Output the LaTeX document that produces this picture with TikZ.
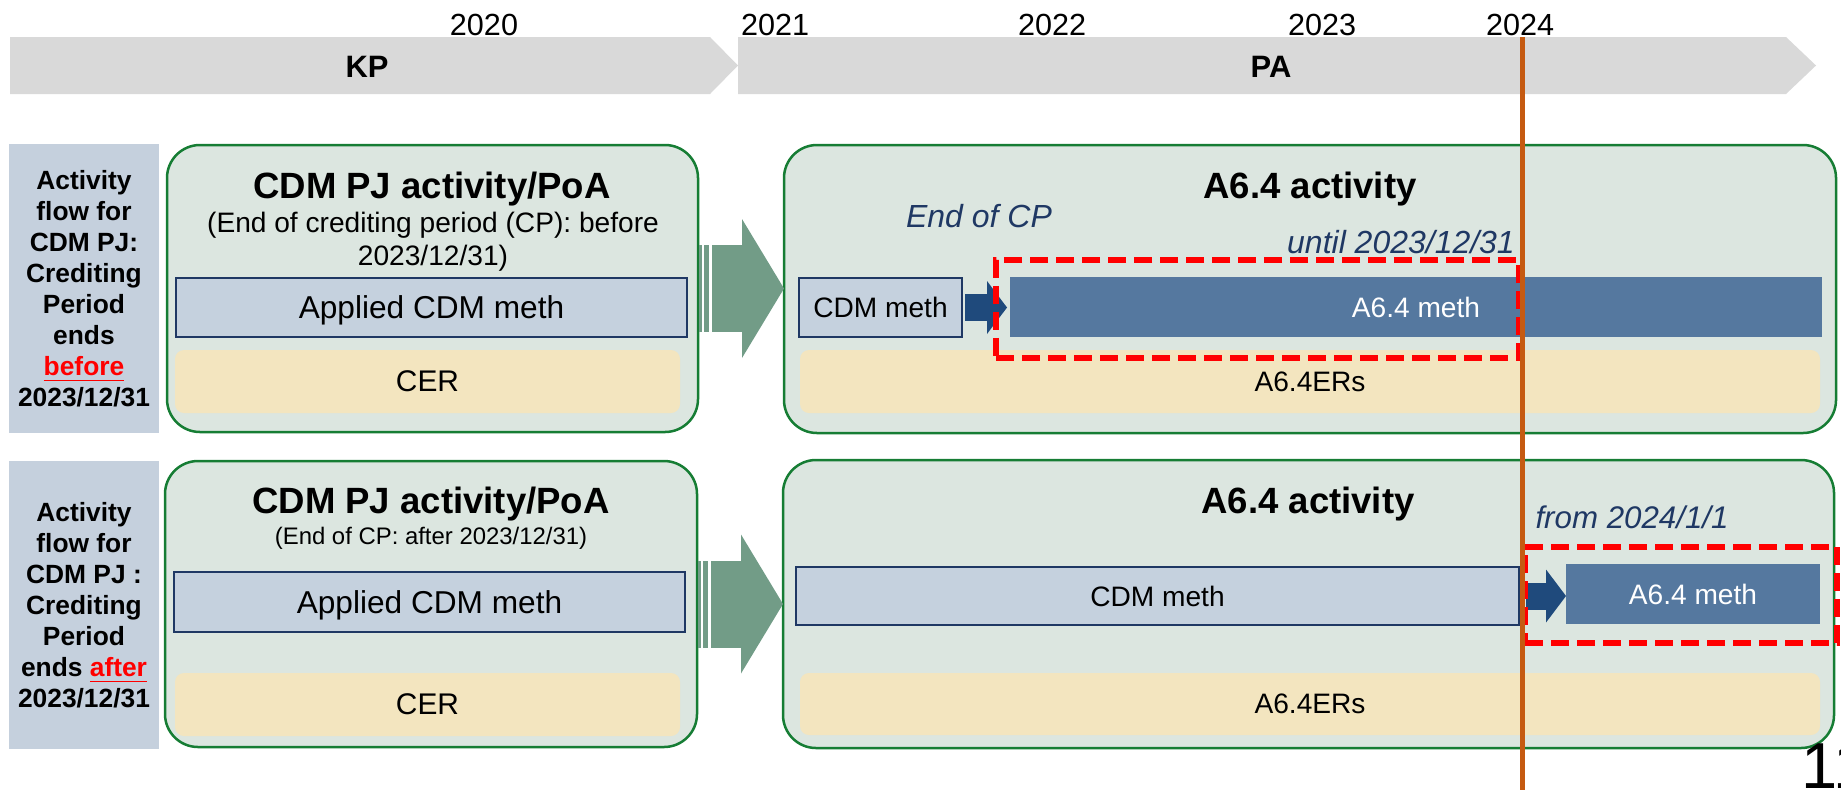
\documentclass[tikz,border=0pt]{standalone}
\usepackage{fontspec}
\setmainfont{Liberation Sans}
\usepackage{tikz}
\usetikzlibrary{arrows.meta}
\definecolor{barg}{RGB}{217,217,217}
\definecolor{sideb}{RGB}{197,208,221}
\definecolor{panelf}{RGB}{220,230,224}
\definecolor{panell}{RGB}{22,125,52}
\definecolor{methf}{RGB}{197,209,222}
\definecolor{methl}{RGB}{31,56,100}
\definecolor{credf}{RGB}{243,229,191}
\definecolor{newmeth}{RGB}{85,120,159}
\definecolor{darr}{RGB}{31,74,124}
\definecolor{garr}{RGB}{114,156,135}
\definecolor{navy}{RGB}{31,56,100}
\definecolor{cutline}{RGB}{197,90,17}
\newcommand{\boxat}[7]{\node[#2, minimum width={(#5-#3)*0.1mm}, minimum height={(#6-#4)*0.1mm}] (#1) at ({(#3+#5)/2},{(#4+#6)/2}) {#7};}
\tikzset{
  side/.style={fill=sideb, inner sep=0pt, outer sep=0pt, align=center, font=\fontsize{7.5}{8.8}\selectfont\bfseries},
  panel/.style={draw=panell, line width=0.25mm, fill=panelf, rounded corners=3.3mm, outer sep=0pt},
  meth/.style={draw=methl, line width=0.15mm, fill=methf, inner sep=0pt, outer sep=0pt, text depth=0pt},
  cred/.style={fill=credf, rounded corners=0.9mm, inner sep=0pt, outer sep=0pt, text depth=0pt},
  newm/.style={fill=newmeth, text=white, inner sep=0pt, outer sep=0pt, text depth=0pt},
  redbox/.style={draw=red, line width=0.6mm, dash pattern=on 1.8mm off 0.8mm, outer sep=0pt},
  ttl/.style={font=\fontsize{10.4}{12}\selectfont\bfseries, inner sep=0pt, text depth=0pt},
  year/.style={font=\fontsize{8.7}{10}\selectfont, inner sep=0pt, text depth=0pt},
  era/.style={font=\fontsize{8.8}{10}\selectfont\bfseries, inner sep=0pt, text depth=0pt},
  note/.style={font=\fontsize{9.1}{11}\selectfont\itshape, text=navy, inner sep=0pt, text depth=0pt},
  garrow/.style={draw=garr, line width=8.7mm, -{Triangle[length=4.2mm, width=13.9mm, line width=0pt]}},
  darrow/.style={draw=darr, line width=2.7mm, -{Triangle[length=2.0mm, width=5.3mm, line width=0pt]}}
}

\begin{document}
\begin{tikzpicture}[x=0.1mm, y=-0.1mm]
    \useasboundingbox (0,0) rectangle (1841,790);
    % timeline
    \fill[barg] (10,37) -- (710,37) -- (738,65.5) -- (710,94) -- (10,94) -- cycle;
    \fill[barg] (738,37) -- (1786,37) -- (1816,65.5) -- (1786,94) -- (738,94) -- cycle;
    \node[era] (kp) at (367,67) {KP};
    \node[era] (pa) at (1271,67) {PA};
    \node[year] (y20) at (484,25) {2020};
    \node[year] (y21) at (775,25) {2021};
    \node[year] (y22) at (1052,25) {2022};
    \node[year] (y23) at (1322,25) {2023};
    \node[year] (y24) at (1520,25) {2024};
    % row 1
    \boxat{sideA}{side}{9}{144}{159}{433}{Activity\\flow for\\CDM PJ:\\Crediting\\Period\\ends\\\textcolor{red}{\underline{before}}\\2023/12/31}
    \boxat{lftA}{panel}{167}{145}{698}{432}{}
    \node[ttl] (ttlA) at (432,185) {CDM PJ activity/PoA};
    \node[align=center, inner sep=0pt, font=\fontsize{8}{9.4}\selectfont] (subA) at (433,242) {(End of crediting period (CP): before\\2023/12/31)};
    \boxat{apA}{meth, font=\fontsize{9}{11}\selectfont}{176}{278}{687}{337}{Applied CDM meth}
    \boxat{cerA}{cred, font=\fontsize{8.5}{10}\selectfont}{175}{350}{680}{413}{CER}
    \boxat{rgtA}{panel}{784}{145}{1836}{433}{}
    \node[ttl] (actA) at (1310,185) {A6.4 activity};
    \node[note] (endA) at (979,216) {End of CP};
    \node[note] (untA) at (1401,242) {until 2023/12/31};
    \boxat{cdmA}{meth, font=\fontsize{8}{10}\selectfont}{799}{278}{962}{337}{CDM meth}
    \boxat{newA}{newm, font=\fontsize{8}{10}\selectfont}{1010}{277}{1822}{337}{A6.4 meth}
    \boxat{ersA}{cred, font=\fontsize{8}{10}\selectfont}{800}{350}{1820}{413}{A6.4ERs}
    \fill[garr] ([xshift=0.1mm, yshift=4.35mm]lftA.east) rectangle ([xshift=0.4mm, yshift=-4.35mm]lftA.east);
    \fill[garr] ([xshift=0.6mm, yshift=4.35mm]lftA.east) rectangle ([xshift=1.1mm, yshift=-4.35mm]lftA.east);
    \draw[garrow] ([xshift=1.4mm]lftA.east) -- (lftA.east -| rgtA.west);
    \draw[darrow] ([xshift=0.3mm]cdmA.east) -- ([xshift=-0.3mm]cdmA.east -| newA.west);
    \boxat{redA}{redbox}{996}{260}{1519}{358}{}
    % row 2
    \boxat{sideB}{side}{9}{461}{159}{749}{Activity\\flow for\\CDM PJ :\\Crediting\\Period\\ends \textcolor{red}{\underline{after}}\\2023/12/31}
    \boxat{lftB}{panel}{165}{461}{697}{747}{}
    \node[ttl] (ttlB) at (431,500) {CDM PJ activity/PoA};
    \node[inner sep=0pt, text depth=0pt, font=\fontsize{6.8}{8}\selectfont] (subB) at (431,536) {(End of CP: after 2023/12/31)};
    \boxat{apB}{meth, font=\fontsize{9}{11}\selectfont}{174}{572}{685}{632}{Applied CDM meth}
    \boxat{cerB}{cred, font=\fontsize{8.5}{10}\selectfont}{175}{673}{680}{736}{CER}
    \boxat{rgtB}{panel}{783}{460}{1834}{748}{}
    \node[ttl] (actB) at (1308,500) {A6.4 activity};
    \node[note, font=\fontsize{8.9}{11}\selectfont\itshape] (fromB) at (1632,517) {from 2024/1/1};
    \boxat{cdmB}{meth, font=\fontsize{8}{10}\selectfont}{796}{567}{1519}{625}{CDM meth}
    \boxat{newB}{newm, font=\fontsize{8}{10}\selectfont}{1566}{564}{1820}{624}{A6.4 meth}
    \boxat{ersB}{cred, font=\fontsize{8}{10}\selectfont}{800}{673}{1820}{735}{A6.4ERs}
    \fill[garr] ([xshift=0.1mm, yshift=4.35mm]lftB.east) rectangle ([xshift=0.4mm, yshift=-4.35mm]lftB.east);
    \fill[garr] ([xshift=0.6mm, yshift=4.35mm]lftB.east) rectangle ([xshift=1.1mm, yshift=-4.35mm]lftB.east);
    \draw[garrow] ([xshift=1.4mm]lftB.east) -- (lftB.east -| rgtB.west);
    \draw[darrow] ([xshift=0.7mm]cdmB.east) -- (cdmB.east -| newB.west);
    \boxat{redB}{redbox}{1525}{547}{1837}{643}{}
    % 2024 cut
    \coordinate (cuttop) at (1522,37);
    \coordinate (cutbot) at (1522,790);
    \draw[cutline, line width=0.5mm] (cuttop) -- (cutbot);
    \node[anchor=base west, inner sep=0pt, font=\fontsize{18.5}{20}\selectfont] (pageno) at (1801,788) {11};
\end{tikzpicture}
\end{document}
